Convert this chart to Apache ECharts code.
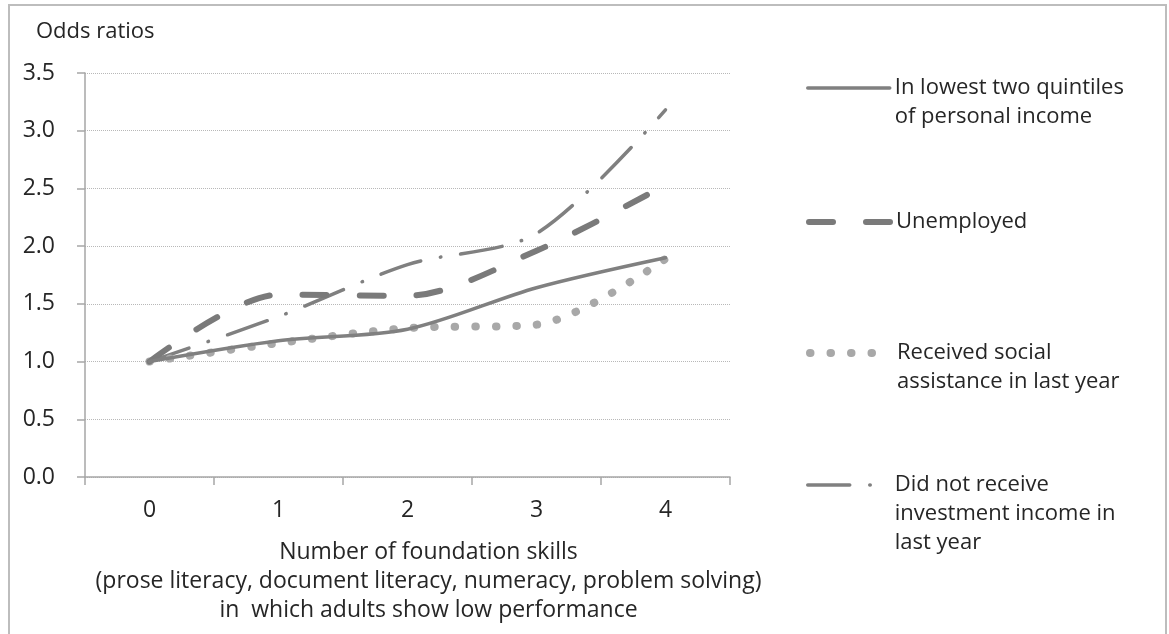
<!DOCTYPE html>
<html>
<head>
<meta charset="utf-8">
<script src="https://cdn.jsdelivr.net/npm/echarts@6/dist/echarts.min.js"></script>
<style>
html,body{margin:0;padding:0;background:#fff;}
#chart{width:1169px;height:634px;}
</style>
</head>
<body>
<div id="chart"></div>
<script>
// ---- data ----
const categories = ['0', '1', '2', '3', '4'];
const lowIncome = [1.0, 1.18, 1.28, 1.64, 1.90];
const unemployed = [1.0, 1.58, 1.57, 1.96, 2.53];
const socialAssistance = [1.0, 1.16, 1.29, 1.32, 1.89];
const noInvestment = [1.0, 1.39, 1.84, 2.11, 3.18];
const seriesNames = [
  'In lowest two quintiles of personal income',
  'Unemployed',
  'Received social assistance in last year',
  'Did not receive investment income in last year'
];
const legendLines = [
  ['In lowest two quintiles', 'of personal income'],
  ['Unemployed'],
  ['Received social', 'assistance in last year'],
  ['Did not receive', 'investment income in', 'last year']
];
const yTicks = ['0.0', '0.5', '1.0', '1.5', '2.0', '2.5', '3.0', '3.5'];
const yTitle = 'Odds ratios';
const xTitle = 'Number of foundation skills\n(prose literacy, document literacy, numeracy, problem solving)\nin  which adults show low performance';

// ---- styles ----
const FONT = 'Open Sans';
const TXT = '#262626';
const LH = 29;
const lineStyles = [
  { color: '#808080', width: 3.5, type: 'solid', cap: 'round' },
  { color: '#7a7a7a', width: 6, type: [24, 33], cap: 'round' },
  { color: '#a8a8a8', width: 8, type: [0.5, 20], cap: 'round' },
  { color: '#808080', width: 3.5, type: [42, 20, 0.5, 20], cap: 'round' }
];
const seriesData = [lowIncome, unemployed, socialAssistance, noInvestment];

function legendFmt(name) {
  const i = seriesNames.indexOf(name);
  const lines = legendLines[i];
  return '\n'.repeat(lines.length - 1) + lines.join('\n');
}

const iconCenters = [88, 222, 353, 485];
const legends = seriesNames.map(function (n, i) {
  const nl = legendLines[i].length;
  return {
    data: [n],
    orient: 'vertical',
    left: 806,
    top: iconCenters[i] - (2 * nl - 1) * LH / 2,
    padding: 0,
    itemWidth: 82,
    itemHeight: 14,
    selectedMode: false,
    itemStyle: { opacity: 0 },
    lineStyle: lineStyles[i],
    formatter: legendFmt,
    textStyle: { fontFamily: FONT, fontSize: 22, color: TXT, lineHeight: LH }
  };
});

const chart = echarts.init(document.getElementById('chart'), null, { renderer: 'canvas' });
chart.setOption({
  backgroundColor: '#ffffff',
  animation: false,
  title: {
    text: yTitle,
    left: 31, top: 16,
    textStyle: { fontFamily: FONT, fontSize: 22, fontWeight: 'normal', color: TXT }
  },
  graphic: [{
    type: 'rect', z: -10, silent: true,
    shape: { x: 9, y: 5, width: 1157, height: 640 },
    style: { fill: 'none', stroke: '#bdbdbd', lineWidth: 2 }
  }],
  legend: legends,
  grid: { left: 85, right: 439, top: 73, bottom: 157, containLabel: false },
  xAxis: {
    type: 'category',
    data: categories,
    boundaryGap: true,
    axisLine: { show: true, lineStyle: { color: '#a6a6a6', width: 1.5 } },
    axisTick: { show: true, length: 8, lineStyle: { color: '#a6a6a6', width: 1.5 } },
    axisLabel: { fontFamily: FONT, fontSize: 23, color: TXT, margin: 22 },
    name: xTitle,
    nameLocation: 'middle',
    nameGap: 61,
    nameTextStyle: { fontFamily: FONT, fontSize: 23, color: TXT, lineHeight: LH, padding: [0, 0, 0, 42], verticalAlign: 'top' }
  },
  yAxis: {
    type: 'value',
    min: 0, max: 3.5, interval: 0.5,
    axisLine: { show: true, lineStyle: { color: '#a6a6a6', width: 1.5 } },
    axisTick: { show: true, length: 8, lineStyle: { color: '#a6a6a6', width: 1.5 } },
    axisLabel: {
      fontFamily: FONT, fontSize: 23, color: TXT, margin: 30,
      formatter: function (v) { return yTicks[Math.round(v / 0.5)]; }
    },
    splitLine: { show: true, lineStyle: { color: '#b8b8b8', width: 1, type: [1, 1] } }
  },
  series: seriesNames.map(function (n, i) {
    return {
      name: n, type: 'line', data: seriesData[i], smooth: 0.3,
      symbol: 'none', z: 4 - i,
      lineStyle: lineStyles[i],
      itemStyle: { color: lineStyles[i].color }
    };
  })
});
</script>
</body>
</html>
